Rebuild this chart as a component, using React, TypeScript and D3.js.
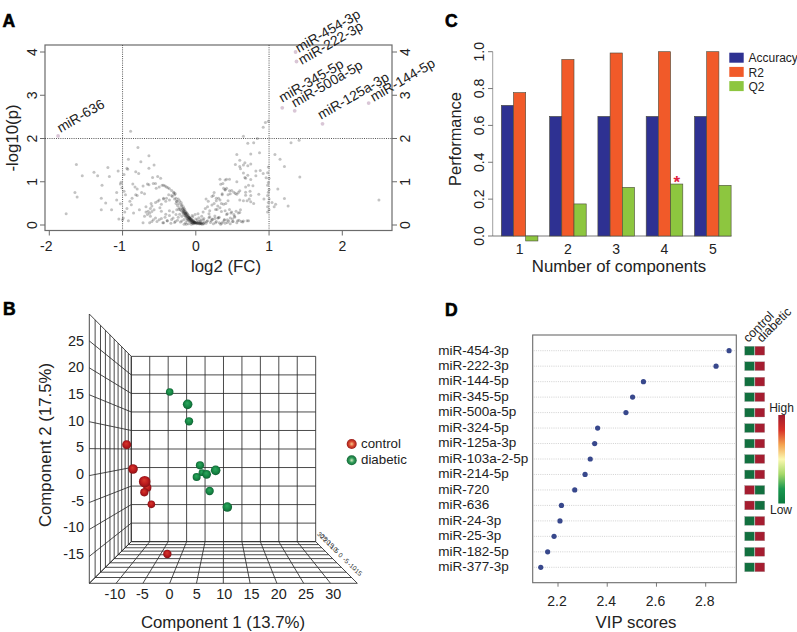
import React from "react";
import * as d3 from "d3";

const FONT = "'Liberation Sans', Arial, sans-serif";

// ---------- Panel A ----------
const volcanoX = [
 -1.63,-1.55,-1.39,-1.34,-1.20,-1.18,-1.28,-1.65,-1.62,-1.77,-1.29,-1.23,-1.29,-1.15,-1.08,-1.08,-1.06,-1.03,-1.05,
 -.89,-.79,-.92,-.64,-.75,-.94,-.93,-.57,-.64,-.82,-.78,-.98,-1.02,-1.03,-1.01,-.98,-.96,-.87,-.86,-.83,-.80,-.90,-.88,-.94,-.97,-.99,-1.0,-.92,-.85,-.77,-.72,-.68,-.62,-.59,-.55,-.52,-.48,-.44,
 -.82,-.80,-.74,-.70,-.66,-.72,-.64,-.58,-.54,-.50,-.46,-.42,-.40,-.38,-.36,-.33,-.30,-.28,-.44,-.41,-.37,
 -.68,-.65,-.62,-.60,-.66,-.63,-.60,-.57,-.70,-.61,-.55,-.52,-.50,-.47,-.49,-.44,-.40,-.36,-.32,-.29,-.26,-.23,-.20,
 -.63,-.60,-.58,-.55,-.53,-.50,-.47,-.45,-.42,-.39,-.36,-.33,-.31,-.28,-.26,-.24,-.22,-.19,-.17,-.47,-.44,-.41,-.39,-.36,-.34,-.31,-.29,-.27,-.25,-.23,-.21,-.19,-.16,-.14,
 -.30,-.33,-.27,-.29,-.26,-.24,-.27,-.22,-.25,-.20,-.23,-.19,-.21,-.17,-.20,-.16,-.18,-.15,-.17,-.14,-.16,-.13,-.15,-.12,-.14,-.11,-.13,-.10,-.12,-.09,-.11,-.08,-.10,-.07,-.09,-.06,-.08,-.05,-.07,-.04,-.06,-.03,-.05,-.02,-.04,-.01,-.03,.0,-.02,.01,.02,.03,.04,.05,.06,.07,.08,.09,.10,.11,
 -.19,-.18,-.17,-.165,-.155,-.15,-.14,-.135,-.125,-.12,-.11,-.105,-.095,-.09,-.08,-.075,-.065,-.06,-.05,-.045,-.035,-.03,-.02,-.01,.0,.015,.03,.045,.06,.075,
 -.14,-.12,-.10,-.08,-.06,-.04,-.02,.0,.02,.04,.06,.08,.10,.12,.14,.16,.18,.20,.22,.24,.26,.28,.30,.32,-.16,-.13,-.09,-.05,-.01,.03,.07,.11,.15,.19,.23,.27,.31,.35,.39,.43,.47,.51,
 .10,.13,.16,.19,.22,.25,.27,.30,.33,.35,.38,.40,.43,.46,.49,.52,.55,.58,.61,.18,.21,.26,.29,.32,.35,.39,.42,.45,.48,.50,.53,.57,.60,.34,.37,.40,.43,.47,.50,.53,.56,.59,.62,.65,
 .14,.17,.22,.28,.31,.36,.41,.44,.25,.64,.70,.72,.73,
 .24,.28,.33,.36,.34,.37,.38,.40,.42,.46,.49,.54,.58,.60,.44,.47,.52,.56,.40,.42,.46,.33,.40,.56,.61,.65,.68,.71,.75,.60,.54,.60,.65,.67,.71,.75,.82,.68,.72,.78,.68,.68,.74,.75,.86,.93,.60,.65,.70,.75,.79,
 .65,.71,.79,.84,.92,.95,.99,1.30,1.41,.56,.75,.87,1.08,1.15,1.21,1.42,1.12,1.21,1.26,2.50,1.04,1.09,1.07,.92,.88,.96,.82,.67,
 .99,.98,1.0,.99,.98,1.0,.99,.98,1.0,.99,.98,1.0,.98
];
const volcanoY = [
 1.40,1.14,1.22,1.14,1.33,1.12,.92,.75,.65,.26,.62,.51,.35,.35,.75,.58,1.25,.49,.14,
 2.17,1.79,1.52,1.60,1.46,1.31,1.29,1.39,1.31,1.23,1.19,1.17,.99,.95,.86,.78,.70,.62,.95,.88,.83,.55,.47,.38,.30,.16,.12,.10,.28,.35,.05,.42,.20,1.10,.96,1.12,1.08,.92,
 .70,.68,.75,.72,.95,.90,.93,.96,.85,.88,.92,.90,.88,.86,.84,.80,.76,.72,.62,.55,.70,
 .30,.32,.38,.44,.24,.27,.31,.35,.20,.50,.52,.55,.58,.48,.40,.60,.62,.58,.66,.60,.55,.50,.45,
 .05,.08,.12,.16,.08,.12,.15,.05,.18,.10,.22,.13,.30,.08,.35,.18,.25,.09,.30,.32,.05,.25,.10,.33,.04,.16,.06,.24,.11,.36,.07,.20,.13,.26,
 .74,.68,.62,.70,.55,.60,.50,.56,.45,.52,.40,.47,.36,.42,.33,.38,.30,.35,.27,.31,.25,.29,.22,.27,.20,.24,.18,.22,.15,.18,.14,.17,.12,.15,.10,.13,.09,.12,.07,.10,.06,.09,.05,.07,.04,.06,.03,.05,.07,.03,.06,.04,.08,.03,.05,.03,.06,.02,.04,.03,
 .40,.37,.35,.33,.31,.28,.27,.25,.23,.21,.20,.18,.17,.15,.14,.12,.12,.10,.10,.08,.08,.06,.06,.05,.06,.04,.05,.03,.04,.03,
 .05,.10,.03,.15,.02,.19,.04,.14,.12,.17,.09,.20,.12,.07,.04,.10,.17,.06,.14,.03,.21,.08,.16,.05,.02,.02,.18,.22,.24,.26,.12,.15,.08,.19,.13,.05,.17,.04,.11,.06,.16,.08,
 .30,.38,.42,.33,.46,.50,.36,.44,.40,.31,.48,.33,.26,.36,.30,.24,.32,.28,.35,.26,.10,.15,.36,.18,.50,.13,.24,.09,.28,.14,.20,.10,.29,.02,.07,.04,.12,.03,.08,.18,.05,.11,.08,.09,
 .60,.55,.66,.56,.62,.70,.50,.56,.75,.07,.10,.10,.60,
 .68,.62,.58,.72,.94,.96,.85,.81,.85,.79,.80,.73,.75,.79,.70,.72,.76,.71,.82,1.06,1.06,1.06,1.04,1.0,1.30,1.20,1.08,1.15,1.05,1.50,1.40,1.35,1.39,1.44,1.37,1.41,1.14,.88,.92,.91,.76,.69,.78,.68,.71,.60,.58,.56,.56,.54,.50,
 2.05,1.89,1.90,2.0,2.26,2.37,2.40,1.90,1.96,1.63,1.64,1.67,1.63,1.52,1.35,1.11,.83,.61,.44,.58,.52,.48,.42,1.19,1.26,1.09,1.25,1.10,
 1.34,1.21,1.08,.98,.92,.82,.76,.68,.60,.52,.42,.35,.30
];
const hitGenes = ["miR-454-3p","miR-222-3p","miR-345-5p","miR-500a-5p","miR-125a-3p","miR-144-5p","miR-636"];
const hitX = [1.362,1.375,1.18,1.35,1.73,2.36,-1.88];
const hitY = [4.0,3.78,2.71,2.64,2.34,2.82,2.06];
const hitLabelDx = [3.3,5.3,0,0,-1.5,5,2.3];
const hitLabelDy = [1,3.5,-5,-3,-4,-1,-3];
const volcanoXTicks = [-2,-1,0,1,2];
const volcanoYTicks = [0,1,2,3,4];

// ---------- Panel B ----------
const pcaGroups = ["control","diabetic"];
const controlC1 = [-7.86,-6.7,-4.08,-4.63,-3.34,-.41,-4.56];
const controlC2 = [5.5,.94,-2.56,-3.44,-5.69,-15,-1.44];
const controlR = [4.5,4.8,4.1,4.1,3.8,4.2,5.8];
const diabeticC1 = [.02,3.31,3.56,5.94,5.57,6.79,8.44,4.96,7.34,10.58];
const diabeticC2 = [15.375,13.06,9.88,.25,1.63,-.06,.69,-.56,-3.19,-6.19];
const diabeticR = [3.8,4.8,4.2,3.4,4.1,4.4,4.8,4,4.2,4.8];
const pcaC1Ticks = [-10,-5,0,5,10,15,20,25,30];
const pcaC2Ticks = [-15,-10,-5,0,5,10,15,20,25];
const pcaC3Ticks = ["30","25","20","15","10","5","0","-5","-10","-15"];
const gridSteps = [0,1,2,3,4,5,6,7,8,9,10];

// ---------- Panel C ----------
const componentsN = ["1","2","3","4","5"];
const accuracy = [.709,.649,.649,.649,.649];
const r2 = [.778,.958,.993,1,1];
const q2 = [-.027,.174,.264,.282,.275];
const perfTicks = [0,.2,.4,.6,.8,1];
const perfSeries = ["Accuracy","R2","Q2"];
const perfColors = ["#2e3192","#f15a29","#8dc63f"];

// ---------- Panel D ----------
const vipGenes = ["miR-454-3p","miR-222-3p","miR-144-5p","miR-345-5p","miR-500a-5p","miR-324-5p","miR-125a-3p","miR-103a-2-5p","miR-214-5p","miR-720","miR-636","miR-24-3p","miR-25-3p","miR-182-5p","miR-377-3p"];
const vipScores = [2.895,2.842,2.547,2.503,2.476,2.361,2.349,2.331,2.31,2.268,2.214,2.208,2.184,2.158,2.13];
const controlHigh = [0,0,0,0,0,0,0,0,0,1,1,0,0,0,0];
const vipTicks = [2.2,2.4,2.6,2.8];
const heatGroups = ["control","diabetic"];
const colorbarStops = ["#a01c2e","#d73027","#f4a24f","#fbf8b0","#a6d96a","#1a9850","#0b7a3e"];

const BOX = "#6b6b6b";

function PanelA() {
  const x = d3.scaleLinear().domain([-2, 2]).range([49.3, 342.3]);
  const y = d3.scaleLinear().domain([0, 4]).range([225, 52]);
  const L = 45, R = 392, T = 45, B = 230.5;
  const dot = "1 1.2";
  return (
    <g>
      <rect x={L} y={T} width={R - L} height={B - T} fill="none" stroke={BOX} strokeWidth={1.2} />
      {volcanoX.map((v, i) => (
        <circle key={i} cx={x(v)} cy={y(volcanoY[i])} r={1.5} fill="#222" fillOpacity={0.27} />
      ))}
      <line x1={x(-1)} x2={x(-1)} y1={T} y2={B} stroke="#444" strokeWidth={0.9} strokeDasharray={dot} />
      <line x1={x(1)} x2={x(1)} y1={T} y2={B} stroke="#444" strokeWidth={0.9} strokeDasharray={dot} />
      <line x1={L} x2={R} y1={y(2)} y2={y(2)} stroke="#444" strokeWidth={0.9} strokeDasharray={dot} />
      {hitX.map((v, i) => (
        <circle key={i} cx={x(v)} cy={y(hitY[i])} r={1.9} fill="#d9c6d6" />
      ))}
      {hitGenes.map((g, i) => (
        <text key={g} transform={`translate(${x(hitX[i]) + hitLabelDx[i]},${y(hitY[i]) + hitLabelDy[i]}) rotate(-30)`} fontSize={13.8} fill="#222">{g}</text>
      ))}
      {volcanoXTicks.map(t => (
        <g key={t}>
          <line x1={x(t)} x2={x(t)} y1={B} y2={B + 5} stroke={BOX} strokeWidth={1} />
          <text x={x(t) - (t < 0 ? 3 : 0)} y={251} textAnchor="middle" fontSize={14} fill="#222">{t}</text>
        </g>
      ))}
      {volcanoYTicks.map(t => (
        <g key={t}>
          <line x1={L - 5} x2={L} y1={y(t)} y2={y(t)} stroke={BOX} strokeWidth={1} />
          <line x1={R} x2={R + 5} y1={y(t)} y2={y(t)} stroke={BOX} strokeWidth={1} />
          <text transform={`translate(37,${y(t)}) rotate(-90)`} textAnchor="middle" fontSize={14} fill="#222">{t}</text>
          <text transform={`translate(410,${y(t)}) rotate(-90)`} textAnchor="middle" fontSize={14} fill="#222">{t}</text>
        </g>
      ))}
      <text x={226} y={272} textAnchor="middle" fontSize={16.8} fill="#222">log2 (FC)</text>
      <text transform="translate(17.5,138) rotate(-90)" textAnchor="middle" fontSize={16.8} fill="#222">-log10(p)</text>
    </g>
  );
}

function PanelB() {
  const gridX = d3.scaleLinear().domain([0, 10]).range([89.3, 357.3]);
  const gridY = d3.scaleLinear().domain([0, 10]).range([314, 583.3]);
  const c1 = d3.scaleLinear().domain([-10, 30]).range([115, 333.3]);
  const c2 = d3.scaleLinear().domain([-15, 25]).range([554, 340.7]);
  const vx = 223.9, vy = 449.8, k = 1 / 0.688 - 1;
  const f = (d: number) => 1 / (1 + k * (d / 10));
  const px = (i: number, d: number) => vx + f(d) * (gridX(i) - vx);
  const py = (j: number, d: number) => vy + f(d) * (gridY(j) - vy);
  const seg = (a: [number, number, number], b: [number, number, number], key: string) => (
    <line key={key} x1={px(a[0], a[2])} y1={py(a[1], a[2])} x2={px(b[0], b[2])} y2={py(b[1], b[2])} stroke="#2b2b2b" strokeWidth={0.85} />
  );
  const sphere = (cx: number, cy: number, r: number, id: string, key: string) => (
    <circle key={key} cx={cx} cy={cy} r={r} fill={`url(#${id})`} />
  );
  return (
    <g>
      <defs>
        <radialGradient id="sRed" cx="0.5" cy="0.5" r="0.55" fx="0.45" fy="0.35">
          <stop offset="0" stopColor="#d63a2c" />
          <stop offset="0.55" stopColor="#bb1a1e" />
          <stop offset="1" stopColor="#7c1014" />
        </radialGradient>
        <radialGradient id="sGreen" cx="0.5" cy="0.5" r="0.55" fx="0.45" fy="0.35">
          <stop offset="0" stopColor="#2fa75f" />
          <stop offset="0.55" stopColor="#178a46" />
          <stop offset="1" stopColor="#0e5a30" />
        </radialGradient>
        <radialGradient id="lRed" cx="0.5" cy="0.5" r="0.55">
          <stop offset="0" stopColor="#f7c98a" />
          <stop offset="0.45" stopColor="#dc4a30" />
          <stop offset="1" stopColor="#8c1216" />
        </radialGradient>
        <radialGradient id="lGreen" cx="0.5" cy="0.5" r="0.55">
          <stop offset="0" stopColor="#cfe8bf" />
          <stop offset="0.45" stopColor="#2f9c58" />
          <stop offset="1" stopColor="#0f5f33" />
        </radialGradient>
      </defs>
      {gridSteps.map(i => seg([i, 0, 10], [i, 10, 10], `bv${i}`))}
      {gridSteps.map(j => seg([0, j, 10], [10, j, 10], `bh${j}`))}
      {gridSteps.map(d => seg([0, 0, d], [0, 10, d], `lv${d}`))}
      {gridSteps.map(j => seg([0, j, 0], [0, j, 10], `lh${j}`))}
      {gridSteps.map(i => seg([i, 10, 0], [i, 10, 10], `fv${i}`))}
      {gridSteps.map(d => seg([0, 10, d], [10, 10, d], `fh${d}`))}
      {controlC1.map((v, i) => sphere(c1(v), c2(controlC2[i]), controlR[i], "sRed", `c${i}`))}
      {diabeticC1.map((v, i) => sphere(c1(v), c2(diabeticC2[i]), diabeticR[i], "sGreen", `d${i}`))}
      {pcaC1Ticks.map(t => (
        <text key={t} x={c1(t)} y={599} textAnchor="middle" fontSize={14.4} fill="#222">{t}</text>
      ))}
      {pcaC2Ticks.map(t => (
        <text key={t} x={84} y={c2(t) + 5} textAnchor="end" fontSize={14.4} fill="#222">{t}</text>
      ))}
      {pcaC3Ticks.map((t, i) => (
        <text key={t} transform={`translate(${px(10, 10 - i) + 1},${py(10, 10 - i) - 7}) rotate(38)`} fontSize={6.5} fill="#333">{t}</text>
      ))}
      <text x={223} y={627.5} textAnchor="middle" fontSize={16.8} fill="#222">Component 1 (13.7%)</text>
      <text transform="translate(51,445) rotate(-90)" textAnchor="middle" fontSize={16.8} fill="#222">Component 2 (17.5%)</text>
      {pcaGroups.map((g, i) => (
        <g key={g}>
          <circle cx={351.7} cy={444 + i * 16.3} r={5} fill={`url(#${i ? "lGreen" : "lRed"})`} />
          <text x={361} y={447.8 + i * 16.3} fontSize={13.3} fill="#222">{g}</text>
        </g>
      ))}
    </g>
  );
}

function PanelC() {
  const y = d3.scaleLinear().domain([0, 1]).range([236, 51.7]);
  const band = d3.scaleBand().domain(componentsN).range([495.45, 736.95]).paddingInner(0.242).paddingOuter(0.121);
  const inner = d3.scaleBand().domain(perfSeries).range([0, band.bandwidth()]);
  const values = [accuracy, r2, q2];
  return (
    <g>
      <line x1={492.7} x2={492.7} y1={y(1)} y2={y(0)} stroke="#777" strokeWidth={0.7} />
      <line x1={492.7} x2={731.5} y1={y(0)} y2={y(0)} stroke="#555" strokeWidth={0.8} />
      {perfSeries.map((s, si) =>
        componentsN.map((c, i) => {
          const v = values[si][i];
          return (
            <rect key={s + c} x={(band(c) as number) + (inner(s) as number)} width={inner.bandwidth()} y={y(Math.max(v, 0))} height={Math.abs(y(v) - y(0))} fill={perfColors[si]} stroke="#4a4a3a" strokeWidth={0.6} />
          );
        })
      )}
      {perfTicks.map(t => (
        <g key={t}>
          <line x1={488} x2={492.7} y1={y(t)} y2={y(t)} stroke="#555" strokeWidth={0.8} />
          <text transform={`translate(484,${y(t)}) rotate(-90)`} textAnchor="middle" fontSize={14} fill="#222">{t.toFixed(1)}</text>
        </g>
      ))}
      {componentsN.map(c => (
        <text key={c} x={(band(c) as number) + band.bandwidth() / 2} y={254} textAnchor="middle" fontSize={14} fill="#222">{c}</text>
      ))}
      <text x={619} y={272} textAnchor="middle" fontSize={16.8} fill="#222">Number of components</text>
      <text transform="translate(460.5,139) rotate(-90)" textAnchor="middle" fontSize={16.4} fill="#222">Performance</text>
      <text x={676.7} y={188} textAnchor="middle" fontSize={17} fontWeight="bold" fill="#e0203c">*</text>
      {perfSeries.map((s, i) => (
        <g key={s}>
          <rect x={729.3} y={52.7 + i * 14.2} width={14.4} height={10} fill={perfColors[i]} />
          <text x={748.5} y={62.3 + i * 14.2} fontSize={12} fill="#222">{s}</text>
        </g>
      ))}
    </g>
  );
}

function PanelD() {
  const L = 532.7, R = 736.3, T = 335, B = 582.7;
  const x = d3.scaleLinear().domain([2.2, 2.8]).range([558, 705.7]);
  const y = d3.scalePoint().domain(vipGenes).range([350.7, 567.3]);
  const heat = d3.scaleBand().domain(heatGroups).range([744.7, 764.7]).paddingInner(0.06);
  const barY = d3.scaleLinear().domain([0, colorbarStops.length - 1]).range([0, 100]);
  const HI = "#a51d30", LO = "#12703f";
  return (
    <g>
      <defs>
        <linearGradient id="cbar" x1="0" x2="0" y1="0" y2="1">
          {colorbarStops.map((c, i) => (
            <stop key={c} offset={`${barY(i)}%`} stopColor={c} />
          ))}
        </linearGradient>
      </defs>
      <rect x={L} y={T} width={R - L} height={B - T} fill="none" stroke={BOX} strokeWidth={1.1} />
      {vipGenes.map((g, i) => {
        const yy = y(g) as number;
        return (
          <g key={g}>
            <line x1={L + 1} x2={R - 1} y1={yy} y2={yy} stroke="#bdbdbd" strokeWidth={0.7} strokeDasharray="1 1.2" />
            <circle cx={x(vipScores[i])} cy={yy} r={2.6} fill="#38488c" />
            <text x={438.3} y={yy + 3.8} fontSize={13.5} fill="#222">{g}</text>
            {heatGroups.map((h, hi) => (
              <rect key={h} x={heat(h)} y={yy - 4.4} width={heat.bandwidth()} height={8.8} fill={(hi === 0) === (controlHigh[i] === 1) ? HI : LO} stroke="#999" strokeWidth={0.3} />
            ))}
          </g>
        );
      })}
      {vipTicks.map(t => (
        <g key={t}>
          <line x1={x(t)} x2={x(t)} y1={B} y2={B + 4} stroke={BOX} strokeWidth={0.9} />
          <text x={x(t) - 1} y={606} textAnchor="middle" fontSize={14} fill="#222">{t.toFixed(1)}</text>
        </g>
      ))}
      <text x={636} y={628} textAnchor="middle" fontSize={16.8} fill="#222">VIP scores</text>
      {heatGroups.map((h, i) => (
        <text key={h} transform={`translate(${(heat(h) as number) + 3.5 + i * 3.2},343) rotate(-45)`} fontSize={12.5} fill="#222">{h}</text>
      ))}
      <rect x={778.3} y={415} width={6.7} height={88.5} fill="url(#cbar)" />
      <text x={781.5} y={412} textAnchor="middle" fontSize={12} fill="#222">High</text>
      <text x={781} y={514} textAnchor="middle" fontSize={12} fill="#222">Low</text>
    </g>
  );
}

const panelLetters = ["A","B","C","D"];
const letterX = [2.5,3,445,445];
const letterY = [27,315,27,316];

export default function App() {
  return (
    <svg width={797} height={632} viewBox="0 0 797 632" style={{ position: "absolute", left: 0, top: 0, fontFamily: FONT, background: "#fff" }}>
      <PanelA />
      <PanelB />
      <PanelC />
      <PanelD />
      {panelLetters.map((l, i) => (
        <text key={l} x={letterX[i]} y={letterY[i]} fontSize={17.5} fontWeight="bold" stroke="#000" strokeWidth={0.6} fill="#000">{l}</text>
      ))}
    </svg>
  );
}
